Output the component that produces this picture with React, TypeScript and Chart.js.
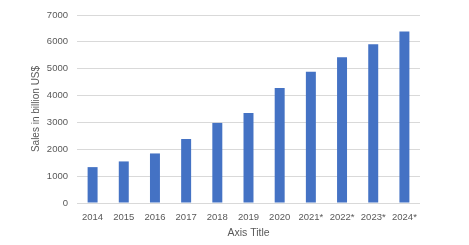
import React, { useEffect, useRef } from "react";
import { Chart, registerables } from "chart.js";

Chart.register(...registerables);

const categories = ["2014", "2015", "2016", "2017", "2018", "2019", "2020", "2021*", "2022*", "2023*", "2024*"];
const sales = [1336, 1548, 1845, 2382, 2982, 3354, 4280, 4891, 5424, 5908, 6388];
const yTitle = "Sales in billion US$";
const xTitle = "Axis Title";

export default function App() {
  const ref = useRef<HTMLCanvasElement>(null);
  useEffect(() => {
    document.body.style.margin = "0";
    const font = "'Liberation Sans', Arial, sans-serif";
    const chart = new Chart(ref.current!, {
      type: "bar",
      data: {
        labels: categories,
        datasets: [
          {
            data: sales,
            backgroundColor: "#4472C4",
            barPercentage: 0.64,
            categoryPercentage: 0.5,
          },
        ],
      },
      options: {
        animation: false,
        responsive: false,
        devicePixelRatio: 1,
        layout: { padding: { top: 15, right: 49, left: 0, bottom: 0 } },
        plugins: { legend: { display: false }, tooltip: { enabled: false } },
        scales: {
          x: {
            grid: { display: false, drawTicks: false },
            border: { display: false },
            ticks: { color: "#595959", font: { family: font, size: 9.5 }, padding: 9, maxRotation: 0, autoSkip: false },
            title: { display: true, text: xTitle, color: "#595959", font: { family: font, size: 10.5 }, padding: { top: 2, bottom: 6 } },
            afterFit: (s: any) => { s.height = 42; },
          },
          y: {
            min: 0,
            max: 7000,
            ticks: {
              stepSize: 1000,
              color: "#595959",
              font: { family: font, size: 9.5 },
              padding: 9,
              callback: (v: any) => String(v),
            },
            grid: { color: "#D9D9D9", drawTicks: false },
            border: { display: false },
            title: { display: true, text: yTitle, color: "#595959", font: { family: font, size: 10 }, padding: { top: 30, bottom: 0 } },
            afterFit: (s: any) => { s.width = 77; },
          },
        },
      },
    });
    return () => chart.destroy();
  }, []);
  return (
    <div style={{ width: 469, height: 245, background: "#fff" }}>
      <canvas ref={ref} width={469} height={245} style={{ display: "block" }} />
    </div>
  );
}
